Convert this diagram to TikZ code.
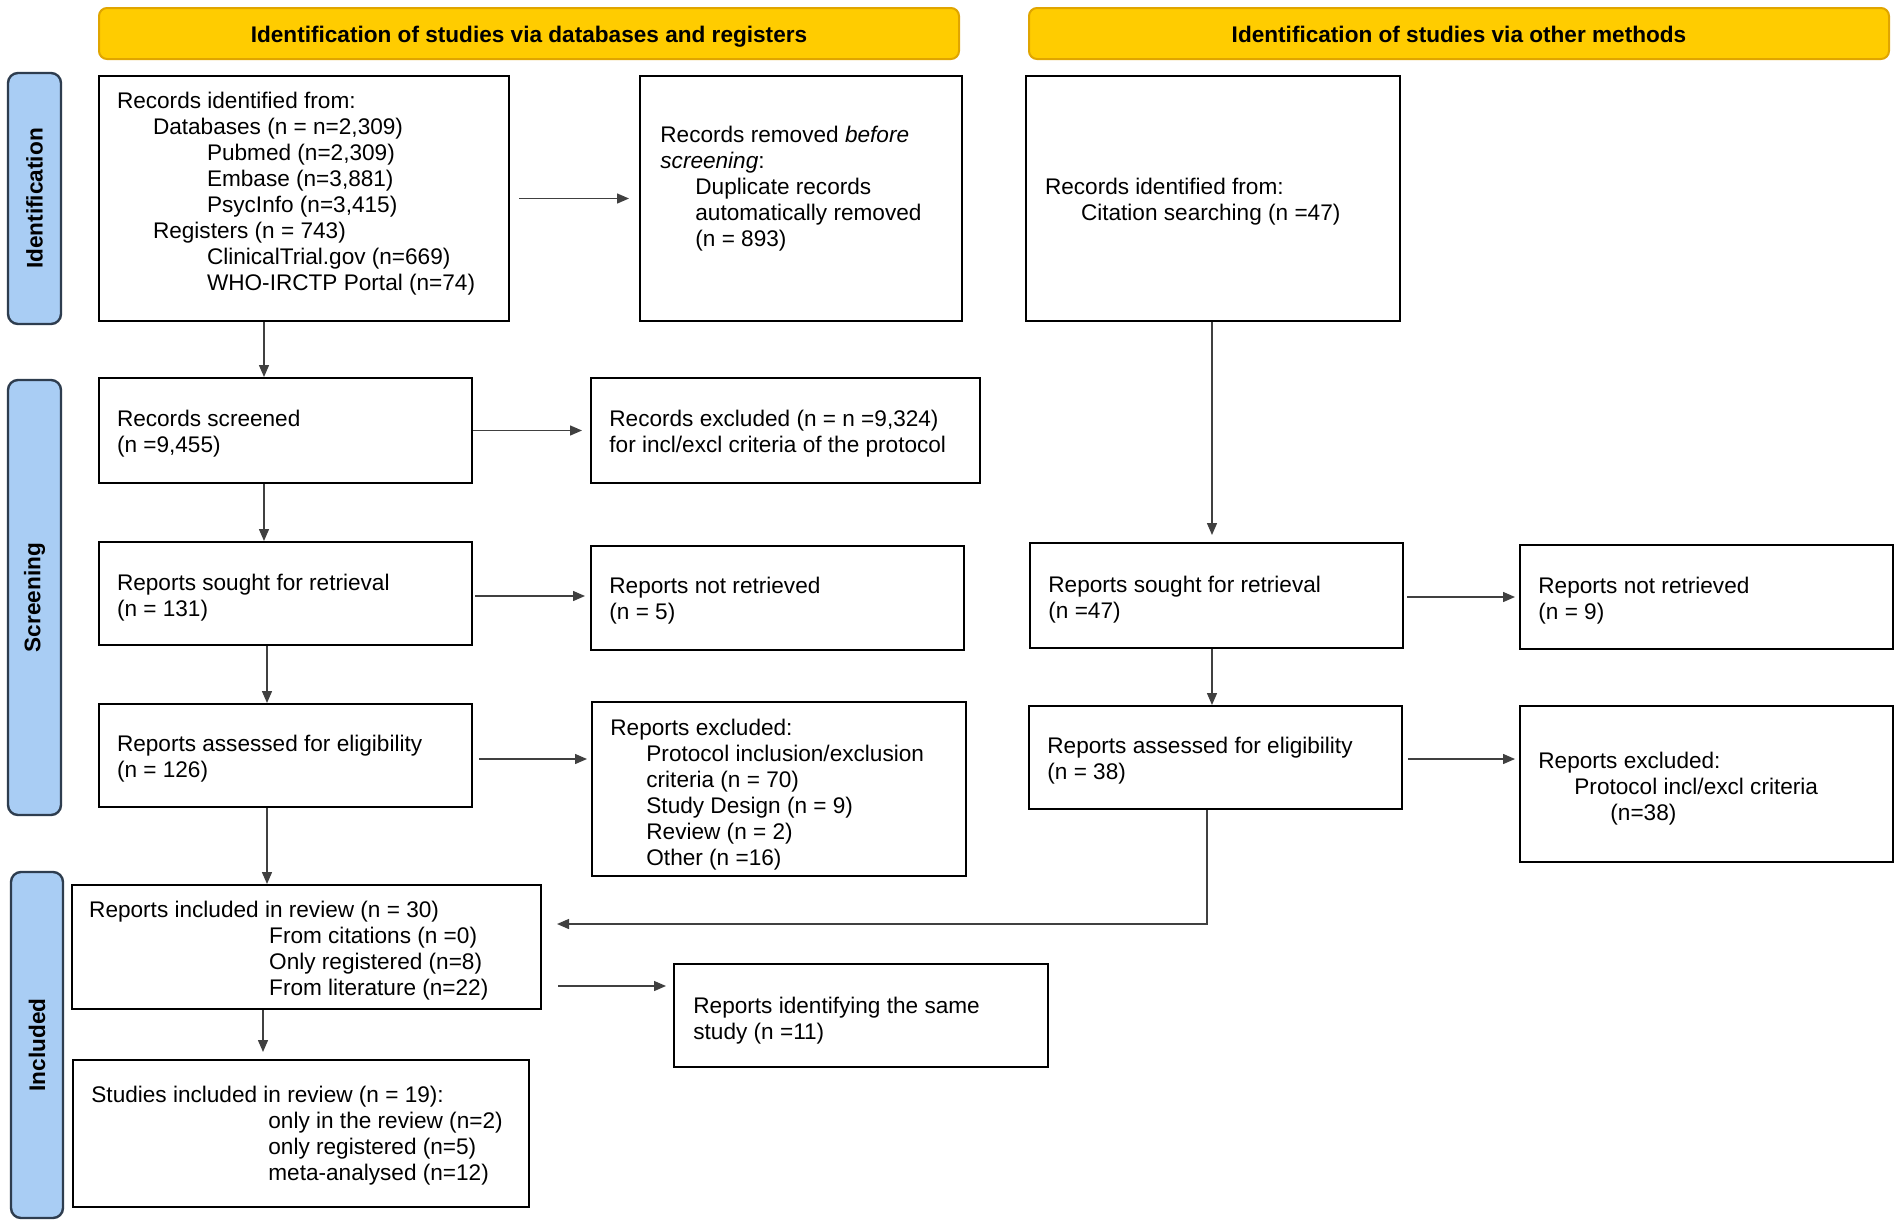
\documentclass[tikz,border=0pt]{standalone}
\usepackage{fontspec}
\setmainfont{Liberation Sans}
\usetikzlibrary{arrows.meta,calc}
\definecolor{hdrfill}{HTML}{FFCC00}
\definecolor{hdrline}{HTML}{E0A500}
\definecolor{sidefill}{HTML}{A9CDF4}
\definecolor{sideline}{HTML}{2E3D4F}
\definecolor{linec}{HTML}{404040}
\begin{document}
\begin{tikzpicture}[x=0.5pt,y=-0.5pt,
 box/.style={draw=black, line width=1pt, fill=white, inner sep=0pt},
 txt/.style={align=left, inner sep=0pt, anchor=west, font=\fontsize{11.3}{13}\selectfont},
 hdr/.style={draw=hdrline, fill=hdrfill, rounded corners=4pt, line width=1pt, inner sep=0pt, minimum width=430pt, minimum height=25.5pt, text height=9.4pt, text depth=0pt, font=\fontsize{11.3}{13}\selectfont\bfseries},
 side/.style={draw=sideline, fill=sidefill, rounded corners=5pt, line width=1.2pt, inner sep=0pt, rotate=90, font=\fontsize{11.3}{13}\selectfont\bfseries},
 arr/.style={draw=linec, line width=0.7pt, -{Triangle[length=6pt,width=5pt]}}]
\fill[white] (0,0) rectangle (1902,1227);
\useasboundingbox (0,0) rectangle (1902,1227);

% headers
\node[hdr] (h1) at (529,33.5) {Identification of studies via databases and registers};
\node[hdr] (h2) at (1459,33.5) {Identification of studies via other methods};

% side bars
\node[side, minimum width=125.5pt, minimum height=26.5pt] (s1) at (34.5,198.5) {Identification};
\node[side, minimum width=217.5pt, minimum height=26.5pt] (s2) at (34.5,597.5) {Screening};
\node[side, minimum width=173pt, minimum height=26pt] (s3) at (37,1045) {Included};

% boxes
\node[box, minimum width=205pt, minimum height=122.5pt] (a1) at (304,198.5) {};
\node[box, minimum width=161pt, minimum height=122.5pt] (a2) at (801,198.5) {};
\node[box, minimum width=187pt, minimum height=122.5pt] (o1) at (1213,198.5) {};
\node[box, minimum width=186.5pt, minimum height=52.5pt] (b1) at (285.5,430.5) {};
\node[box, minimum width=194.5pt, minimum height=52.5pt] (b2) at (785.5,430.5) {};
\node[box, minimum width=186.5pt, minimum height=51.5pt] (c1) at (285.5,593.5) {};
\node[box, minimum width=186.5pt, minimum height=52pt] (c2) at (777.5,598) {};
\node[box, minimum width=186.5pt, minimum height=51.5pt] (d1) at (285.5,755.5) {};
\node[box, minimum width=187pt, minimum height=87pt] (d2) at (779,789) {};
\node[box, minimum width=186.5pt, minimum height=52.5pt] (o2) at (1216.5,595.5) {};
\node[box, minimum width=186.5pt, minimum height=52pt] (o3) at (1706.5,597) {};
\node[box, minimum width=186.5pt, minimum height=51.5pt] (o4) at (1215.5,757.5) {};
\node[box, minimum width=186.5pt, minimum height=78pt] (o5) at (1706.5,784) {};
\node[box, minimum width=234.5pt, minimum height=62pt] (e1) at (306.5,947) {};
\node[box, minimum width=187pt, minimum height=51.5pt] (g) at (861,1015.5) {};
\node[box, minimum width=228pt, minimum height=73.5pt] (f1) at (301,1133.5) {};

% texts
\node[txt] (a1t) at ([xshift=9.3pt,yshift=2.4pt]a1.west) {Records identified from:\\
\hspace*{18pt}Databases (n = n=2,309)\\
\hspace*{45pt}Pubmed (n=2,309)\\
\hspace*{45pt}Embase (n=3,881)\\
\hspace*{45pt}PsycInfo (n=3,415)\\
\hspace*{18pt}Registers (n = 743)\\
\hspace*{45pt}ClinicalTrial.gov (n=669)\\
\hspace*{45pt}WHO-IRCTP Portal (n=74)};
\node[txt] (a2t) at ([xshift=10.5pt,yshift=4.9pt]a2.west) {Records removed \emph{before}\\
\emph{screening}:\\
\hspace*{17.5pt}Duplicate records\\
\hspace*{17.5pt}automatically removed\\
\hspace*{17.5pt}(n = 893)};
\node[txt] (o1t) at ([xshift=9.8pt,yshift=-1.8pt]o1.west) {Records identified from:\\
\hspace*{18pt}Citation searching (n =47)};
\node[txt] (b1t) at ([xshift=9.3pt,yshift=-1.8pt]b1.west) {Records screened\\(n =9,455)};
\node[txt] (b2t) at ([xshift=9.5pt,yshift=-1.8pt]b2.west) {Records excluded (n = n =9,324)\\for incl/excl criteria of the protocol};
\node[txt] (c1t) at ([xshift=9.3pt,yshift=-2pt]c1.west) {Reports sought for retrieval\\(n = 131)};
\node[txt] (c2t) at ([xshift=9.5pt,yshift=-1.4pt]c2.west) {Reports not retrieved\\(n = 5)};
\node[txt] (d1t) at ([xshift=9.3pt,yshift=-1.7pt]d1.west) {Reports assessed for eligibility\\(n = 126)};
\node[txt] (d2t) at ([xshift=9.5pt,yshift=-3pt]d2.west) {Reports excluded:\\
\hspace*{18pt}Protocol inclusion/exclusion\\
\hspace*{18pt}criteria (n = 70)\\
\hspace*{18pt}Study Design (n = 9)\\
\hspace*{18pt}Review (n = 2)\\
\hspace*{18pt}Other (n =16)};
\node[txt] (o2t) at ([xshift=9.5pt,yshift=-1.9pt]o2.west) {Reports sought for retrieval\\(n =47)};
\node[txt] (o3t) at ([xshift=9.5pt,yshift=-1.9pt]o3.west) {Reports not retrieved\\(n = 9)};
\node[txt] (o4t) at ([xshift=9.5pt,yshift=-1.8pt]o4.west) {Reports assessed for eligibility\\(n = 38)};
\node[txt] (o5t) at ([xshift=9.5pt,yshift=-2.4pt]o5.west) {Reports excluded:\\
\hspace*{18pt}Protocol incl/excl criteria\\
\hspace*{36pt}(n=38)};
\node[txt] (e1t) at ([xshift=8.9pt,yshift=-1.8pt]e1.west) {Reports included in review (n = 30)\\
\hspace*{90pt}From citations (n =0)\\
\hspace*{90pt}Only registered (n=8)\\
\hspace*{90pt}From literature (n=22)};
\node[txt] (gt) at ([xshift=10pt,yshift=-2.4pt]g.west) {Reports identifying the same\\study (n =11)};
\node[txt] (f1t) at ([xshift=9.5pt,yshift=-1.2pt]f1.west) {Studies included in review (n = 19):\\
\hspace*{88.5pt}only in the review (n=2)\\
\hspace*{88.5pt}only registered (n=5)\\
\hspace*{88.5pt}meta-analysed (n=12)};

% helper coordinates
\coordinate (xl1) at (264,0);
\coordinate (xl2) at (267,0);
\coordinate (xl3) at (263,0);
\coordinate (xr1) at (1212,0);
\coordinate (xr2) at (1207,0);
\coordinate (yc) at (0,596);
\coordinate (yc2) at (0,597);
\coordinate (yd) at (0,759);
\coordinate (ye) at (0,986);
\coordinate (yturn) at (0,924);

% connectors
\draw[arr] (a1.south -| xl1) -- (b1.north -| xl1);
\draw[arr] (b1.south -| xl1) -- (c1.north -| xl1);
\draw[arr] (c1.south -| xl2) -- (d1.north -| xl2);
\draw[arr] (d1.south -| xl2) -- (e1.north -| xl2);
\draw[arr, shorten >=3.5pt] (e1.south -| xl3) -- (f1.north -| xl3);
\draw[arr, shorten <=4.5pt, shorten >=5pt] (a1.east) -- (a2.west);
\draw[arr, shorten >=4pt] (b1.east) -- (b2.west);
\draw[arr, shorten <=1pt, shorten >=2.5pt] (c1.east |- yc) -- (c2.west |- yc);
\draw[arr, shorten <=3pt, shorten >=2pt] (d1.east |- yd) -- (d2.west |- yd);
\draw[arr, shorten <=8pt, shorten >=3.5pt] (e1.east |- ye) -- (g.west |- ye);
\draw[arr, shorten >=3.5pt] (o1.south -| xr1) -- (o2.north -| xr1);
\draw[arr, shorten <=1.5pt, shorten >=2pt] (o2.east |- yc2) -- (o3.west |- yc2);
\draw[arr] (o2.south -| xr1) -- (o4.north -| xr1);
\draw[arr, shorten <=2.5pt, shorten >=2pt] (o4.east |- yd) -- (o5.west |- yd);
\draw[arr, shorten >=7.5pt] (o4.south -| xr2) |- (e1.east |- yturn);
\end{tikzpicture}
\end{document}
